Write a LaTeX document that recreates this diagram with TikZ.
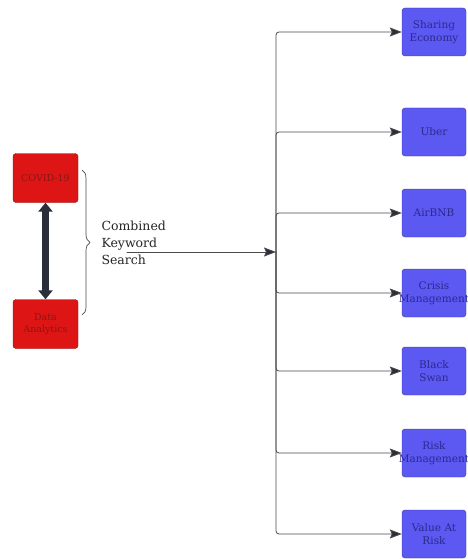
\documentclass[tikz,border=0pt]{standalone}
\usepackage{fontspec}
\setmainfont{DejaVu Serif}
\usetikzlibrary{arrows.meta,decorations.pathreplacing}
\definecolor{redfill}{HTML}{DD1515}
\definecolor{redline}{HTML}{8A1010}
\definecolor{redtext}{HTML}{8C1616}
\definecolor{bluefill}{HTML}{5C58F2}
\definecolor{blueline}{HTML}{3B38A8}
\definecolor{bluetext}{HTML}{2C2A8C}
\definecolor{wire}{HTML}{4A4A4A}
\definecolor{shaft}{HTML}{2A2E3A}
\newcommand{\overword}[1]{\makebox[56pt][c]{#1}}
\tikzset{
  keybox/.style={draw=redline, fill=redfill, rounded corners=3pt, minimum width=65pt,
    minimum height=49pt, text width=57pt, align=center, inner sep=4pt,
    text=redtext, font=\fontsize{9.5}{12}\selectfont},
  topicbox/.style={draw=blueline, fill=bluefill, rounded corners=3pt, minimum width=64pt,
    minimum height=48pt, text width=56pt, align=center, inner sep=4pt,
    text=bluetext, font=\fontsize{10.5}{13}\selectfont},
  link/.style={draw=wire, line width=0.8pt, rounded corners=3pt,
    -{Stealth[length=12pt,width=9pt,inset=2pt,fill=shaft]}}
}
\begin{document}
\begin{tikzpicture}[x=1pt, y=-1pt, line join=round, line cap=round]
				\useasboundingbox[fill=white] (0,0) rectangle (468,559);
				% search keywords
				\node[keybox] (covid) at (45.5,178) {COVID-19};
				\node[keybox] (data) at (45.5,324) {Data\\Analytics};
				\draw[draw=shaft, line width=6.5pt, {Triangle[length=9pt,width=14pt]}-{Triangle[length=9pt,width=14pt]}] (covid.south) -- (data.north);
				\draw[wire, line width=0.7pt, decorate, decoration={brace, amplitude=8pt}] (82,170) -- (82,315);
				\node[anchor=west, align=left, font=\fontsize{12.5}{17}\selectfont, text=black!85] (comb) at (98,243) {Combined\\Keyword\\Search};
				% topics
				\path (434,32) node[topicbox] (share) {Sharing\\Economy}
				(434,132) node[topicbox] (uber) {Uber}
				(434,213) node[topicbox] (air) {AirBNB}
				(434,293) node[topicbox] (crisis) {Crisis\\\overword{Management}}
				(434,371) node[topicbox] (swan) {Black\\Swan}
				(434,453) node[topicbox] (risk) {Risk\\\overword{Management}}
				(434,534) node[topicbox] (var) {Value At\\Risk};
				\coordinate (kw) at (127,252);
				\coordinate (hub) at (276,252);
				\draw[link] (kw) -- (hub);
				\foreach \t in {share,uber,air,crisis,swan,risk,var}
				  \draw[link] (hub) |- (\t.west);
			\end{tikzpicture}
\end{document}
